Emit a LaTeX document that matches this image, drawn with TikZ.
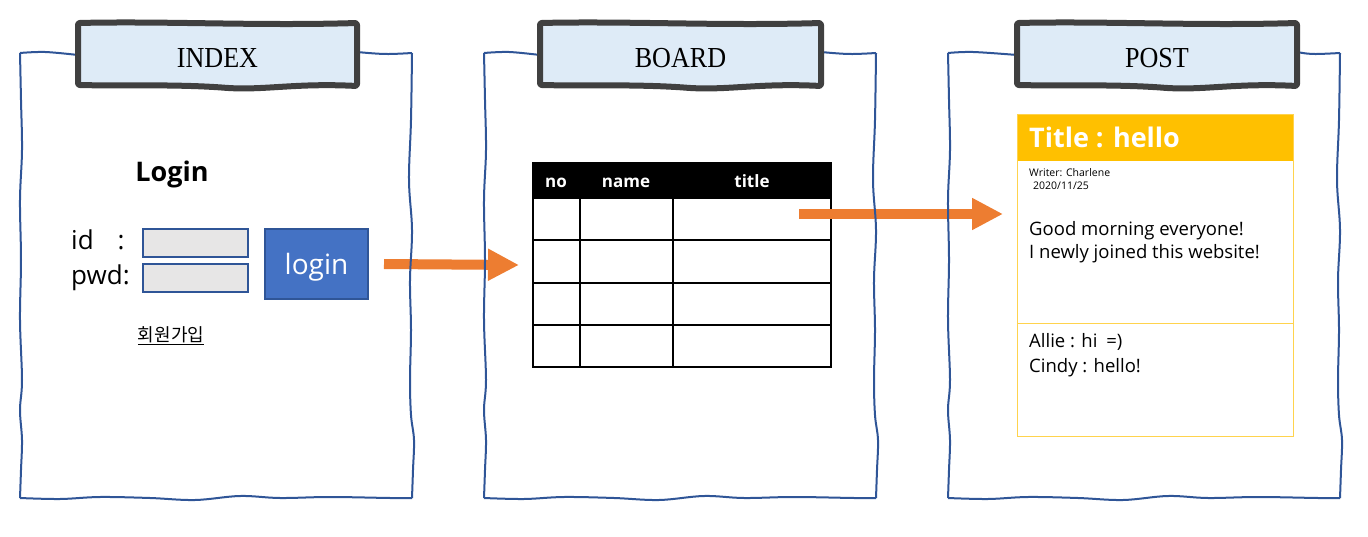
\documentclass[tikz,border=0pt]{standalone}
\usepackage{fontspec}
\usepackage{graphicx}
\setsansfont{Open Sans}
\newfontfamily\krfont{Noto Sans CJK KR}
\newfontfamily\headfont{Liberation Serif}
\usetikzlibrary{arrows.meta}
\definecolor{framecol}{HTML}{2F5597}
\definecolor{titlefill}{HTML}{DEEBF7}
\definecolor{titledraw}{HTML}{404040}
\definecolor{inputfill}{HTML}{E7E6E6}
\definecolor{btnfill}{HTML}{4472C4}
\definecolor{arrowcol}{HTML}{ED7D31}
\definecolor{cardcol}{HTML}{FFC000}
\definecolor{cardline}{HTML}{FFD34D}
\tikzset{
  framepath/.style={draw=framecol, line width=2pt, line join=round},
  titlebox/.style={draw=titledraw, fill=titlefill, line width=6pt, rounded corners=2pt, line join=round},
  titletext/.style={font=\headfont\fontsize{29}{30}\selectfont, inner sep=0pt},
  inputbox/.style={draw=framecol, fill=inputfill, line width=2pt, minimum width=105pt, minimum height=28pt, inner sep=0pt},
  btnbox/.style={draw=framecol, fill=btnfill, line width=2pt, minimum width=103pt, minimum height=70pt, inner sep=0pt},
  btntext/.style={inner sep=0pt, text=white, font=\sffamily\fontsize{28}{30}\selectfont},
  bigarrow/.style={draw=arrowcol, line width=10pt, -{Triangle[length=31pt,width=30pt]}},
  lbl/.style={inner sep=0pt, anchor=base west, font=\sffamily\fontsize{26}{28}\selectfont},
  hdr/.style={inner sep=0pt, anchor=base, text=white, font=\sffamily\bfseries\fontsize{17}{18}\selectfont},
  posttext/.style={inner sep=0pt, anchor=base west, font=\sffamily\fontsize{18.5}{23}\selectfont},
  smalltext/.style={inner sep=0pt, anchor=base west, font=\sffamily\fontsize{10.5}{13}\selectfont},
  tabline/.style={draw=black, line width=2pt},
}
% wavy frame: #1 = x shift, #2 = title left, #3 = title right (relative), #4 = title
\newcommand\wavyframe[4]{%
  \begin{scope}[xshift=#1]
    \draw[framepath] plot[smooth, tension=0.6] coordinates {(#2,55) (45,52) (20,53)};
    \draw[framepath] plot[smooth, tension=0.6] coordinates {(20,53) (21,100) (22,150) (20,200) (21,260) (20,320) (22,380) (20,410) (22,440) (21,470) (20,498)};
    \draw[framepath] plot[smooth, tension=0.6] coordinates {(20,498) (60,499) (100,497) (150,498) (195,500) (240,496) (280,498) (330,497) (390,498) (412,498)};
    \draw[framepath] plot[smooth, tension=0.6] coordinates {(412,498) (413,470) (414,440) (411,415) (410,380) (411,330) (410,280) (412,230) (409,180) (411,120) (412,53)};
    \draw[framepath] plot[smooth, tension=0.6] coordinates {(412,53) (385,54) (#3,52)};
    \draw[titlebox] (#2,23) .. controls (#2+90,21) and (#3-100,26) .. (#3,23) -- (#3,86)
       .. controls (#3-60,83) and (#3-90,90) .. (#2+150,88)
       .. controls (#2+100,84) and (#2+40,86) .. (#2,85) -- cycle;
    \node[titletext] (#4) at ({(#2+#3)/2},58) {\scalebox{0.9}[1]{#4}};
  \end{scope}}
\begin{document}
\begin{tikzpicture}[x=1pt, y=-1pt]
\useasboundingbox (0,0) rectangle (1368,537);

% ---------- INDEX content
\node[inner sep=0pt, font=\sffamily\bfseries\fontsize{27}{28}\selectfont] (logintitle) at (172,174) {Login};
\node[lbl] (idlbl) at (71,250) {id\hspace{24pt}:};
\node[lbl] (pwdlbl) at (71,285) {pwd:};
\node[inputbox] (idbox) at (195.5,243) {};
\node[inputbox] (pwdbox) at (195.5,278.5) {};
\node[btnbox] (loginbtn) at (316.5,264) {};
\node[btntext] (loginlbl) at ([yshift=-3pt]loginbtn.center) {login};
\node[inner sep=0pt, font=\krfont\fontsize{18}{20}\selectfont] (join) at (171,336) {\underline{회원가입}};

% ---------- BOARD table
\fill[black] (533,163) rectangle (831,198);
\node[hdr] (hno) at (556,188) {no};
\node[hdr] (hname) at (626,188) {name};
\node[hdr] (htitle) at (752,188) {title};
\node[inner sep=0pt, minimum width=298pt, minimum height=204pt] (table) at (682,265) {};
\draw[tabline] (533,163) rectangle (831,367);
\draw[tabline] (580,198) -- (580,367);
\draw[tabline] (673,198) -- (673,367);
\foreach \yy in {198,240,283,325} \draw[tabline] (533,\yy) -- (831,\yy);

% ---------- POST card
\fill[cardcol] (1017,115) rectangle (1293,161);
\node[inner sep=0pt, anchor=base west, text=white, font=\sffamily\bfseries\fontsize{27}{28}\selectfont] (posttitle) at (1029,148) {Title : hello};
\node[inner sep=0pt, minimum width=276pt, minimum height=321pt] (card) at (1155,275.5) {};
\draw[cardline, line width=1pt] (1017,115) rectangle (1293,436);
\draw[cardline, line width=1pt] (1017,324) -- (1293,324);
\node[smalltext] (writer) at (1029,177) {Writer: Charlene};
\node[smalltext] (date) at (1033,190) {2020/11/25};
\node[posttext] (body1) at (1029,236) {Good morning everyone!};
\node[posttext] (body2) at (1029,259) {I newly joined this website!};
\node[posttext] (com1) at (1029,348) {Allie : hi\hspace{4pt} =)};
\node[posttext] (com2) at (1029,372) {Cindy : hello!};

% ---------- arrows
\coordinate (a1s) at (384,264);
\coordinate (a1e) at (519,265);
\coordinate (a2s) at (799,214);
\coordinate (a2e) at (1003,214);
\draw[bigarrow] (a1s) -- (a1e);
\draw[bigarrow] (a2s) -- (a2e);

% ---------- frames
\wavyframe{0pt}{78}{357}{INDEX}
\wavyframe{464pt}{76}{357}{BOARD}
\wavyframe{928pt}{89}{369}{POST}
\end{tikzpicture}
\end{document}
